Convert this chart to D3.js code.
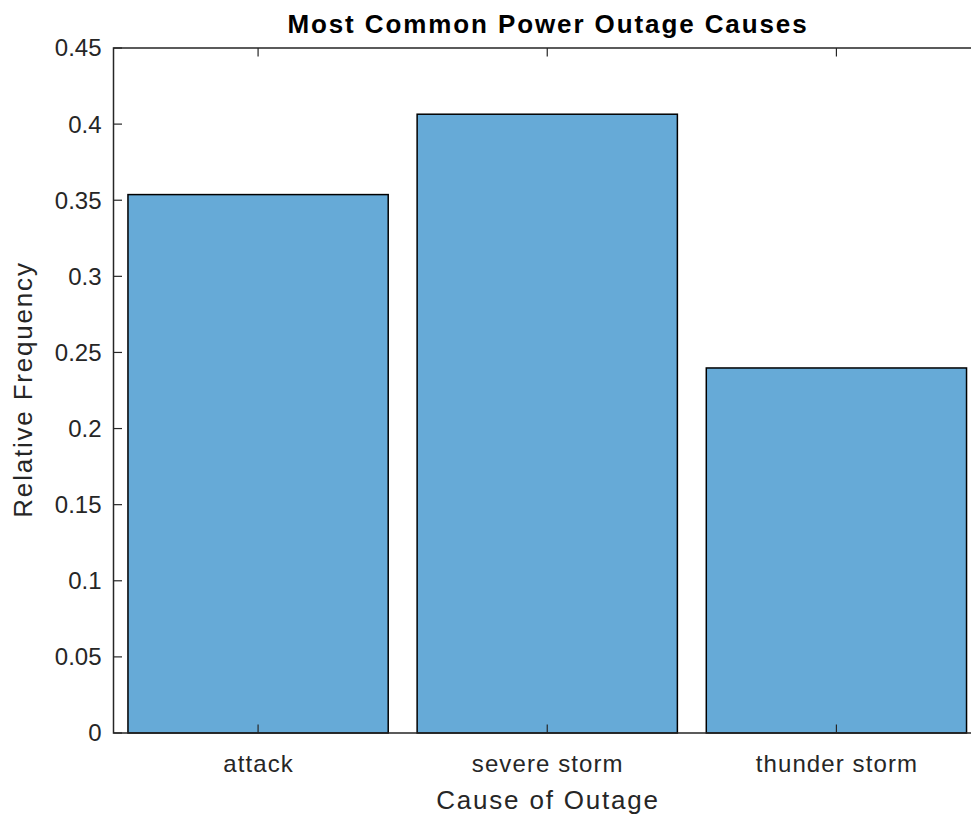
<!DOCTYPE html>
<html><head><meta charset="utf-8">
<script src="https://cdn.jsdelivr.net/npm/d3@7"></script>
<style>body{margin:0;background:#fff;overflow:hidden}svg{display:block}</style>
</head><body>
<script>
const categories = ["attack", "severe storm", "thunder storm"];
const values = [0.3537, 0.4065, 0.2398];
const yTicks = [0, 0.05, 0.1, 0.15, 0.2, 0.25, 0.3, 0.35, 0.4, 0.45];
const titleText = "Most Common Power Outage Causes";
const xLabelText = "Cause of Outage";
const yLabelText = "Relative Frequency";

(function () {
const W = 971, H = 821;
const mLeft = 113.5, mRight = 981, mTop = 48, mBottom = 733;
const axisColor = "#262626";
const font = "'Liberation Sans', Arial, Helvetica, sans-serif";

const svg = d3.select("body").append("svg").attr("width", W).attr("height", H);

const x = d3.scaleLinear().domain([0.5, 3.5]).range([mLeft, mRight]);
const y = d3.scaleLinear().domain([0, 0.45]).range([mBottom, mTop]);

svg.append("g").selectAll("rect").data(values).join("rect")
  .attr("x", (d, i) => x(i + 1 - 0.45))
  .attr("width", (d, i) => x(i + 1 + 0.45) - x(i + 1 - 0.45))
  .attr("y", d => y(d))
  .attr("height", d => y(0) - y(d))
  .attr("fill", "#66aad7")
  .attr("stroke", "#000")
  .attr("stroke-width", 1.5);

svg.append("path").attr("d", `M${mLeft},${mTop}H${mRight}V${mBottom}H${mLeft}Z`)
  .attr("stroke", axisColor).attr("stroke-width", 1.5).attr("fill", "none");

const tickLen = 8.5;
const yt = svg.append("g");
yTicks.forEach(t => {
  yt.append("line").attr("x1", mLeft).attr("x2", mLeft + tickLen).attr("y1", y(t)).attr("y2", y(t))
    .attr("stroke", axisColor).attr("stroke-width", 1.2);
  yt.append("line").attr("x1", mRight).attr("x2", mRight - tickLen).attr("y1", y(t)).attr("y2", y(t))
    .attr("stroke", axisColor).attr("stroke-width", 1.2);
  yt.append("text").attr("x", mLeft - 12).attr("y", y(t)).attr("dy", "0.35em")
    .attr("text-anchor", "end").attr("fill", axisColor)
    .style("font-family", font).style("font-size", "24px")
    .text(String(t));
});
const xt = svg.append("g");
categories.forEach((c, i) => {
  const px = x(i + 1);
  xt.append("line").attr("x1", px).attr("x2", px).attr("y1", mBottom).attr("y2", mBottom - tickLen)
    .attr("stroke", axisColor).attr("stroke-width", 1.2);
  xt.append("line").attr("x1", px).attr("x2", px).attr("y1", mTop).attr("y2", mTop + tickLen)
    .attr("stroke", axisColor).attr("stroke-width", 1.2);
  xt.append("text").attr("x", px + 0.5).attr("y", 772)
    .attr("text-anchor", "middle").attr("fill", axisColor)
    .style("font-family", font).style("font-size", "24px").style("letter-spacing", "1.1px")
    .text(c);
});

svg.append("text").attr("x", 547 + 1).attr("y", 33)
  .attr("text-anchor", "middle").attr("fill", "#000")
  .style("font-family", font).style("font-size", "26px").style("font-weight", "bold")
  .style("letter-spacing", "1.9px")
  .text(titleText);
svg.append("text").attr("x", 547 + 1).attr("y", 809)
  .attr("text-anchor", "middle").attr("fill", axisColor)
  .style("font-family", font).style("font-size", "26px").style("letter-spacing", "1.8px")
  .text(xLabelText);
svg.append("text").attr("transform", `translate(32,${(mTop + mBottom) / 2 - 1}) rotate(-90)`)
  .attr("text-anchor", "middle").attr("fill", axisColor)
  .style("font-family", font).style("font-size", "26px").style("letter-spacing", "1.8px")
  .text(yLabelText);
})();
</script>
</body></html>
